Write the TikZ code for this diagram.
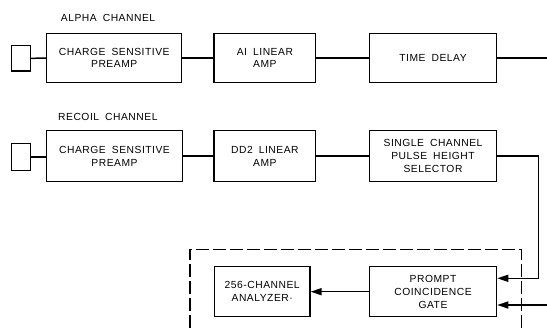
\documentclass[tikz,border=0pt]{standalone}
\usepackage{fontspec}
\setmainfont{Liberation Sans}[LetterSpace=5,WordSpace=1.8]
\usetikzlibrary{arrows.meta}
\begin{document}
\begin{tikzpicture}[x=1pt,y=-1pt,
  blk/.style={draw,line width=1.2pt,inner sep=0pt,align=center,font=\fontsize{10.3}{12.8}\selectfont},
  det/.style={draw,line width=1.2pt,inner sep=0pt,minimum width=18.6pt},
  wire/.style={line width=1.5pt},
  arr/.style={line width=1.5pt,-{Triangle[length=11pt,width=7pt]}},
  lbl/.style={anchor=west,inner sep=0pt,font=\fontsize{10.3}{12}\selectfont}]
\useasboundingbox (0,0) rectangle (547,331);
\clip (0,0) rectangle (547,331);
% labels
\node[lbl] (l1) at (60.7,17.7) {ALPHA CHANNEL};
\node[lbl] (l2) at (58,116.7) {RECOIL CHANNEL};
% row 1
\node[det,minimum height=25.5pt] (d1) at (21,58.3) {};
\node[blk,minimum width=135pt,minimum height=49.4pt] (a1) at (114.2,58) {CHARGE SENSITIVE\\PREAMP};
\node[blk,minimum width=101.7pt,minimum height=49.4pt] (a2) at (264.9,58) {AI LINEAR\\AMP};
\node[blk,minimum width=127.4pt,minimum height=49.4pt] (a3) at (433,58) {TIME DELAY};
\coordinate (o1) at (547,58);
\draw[wire] (d1) -- (a1);
\draw[wire] (a1) -- (a2);
\draw[wire] (a2) -- (a3);
\draw[wire] (a3) -- (o1);
% row 2
\node[det,minimum height=27.4pt] (d2) at (21,157) {};
\node[blk,minimum width=135.6pt,minimum height=51pt] (r1) at (114.5,156.2) {CHARGE SENSITIVE\\PREAMP};
\node[blk,minimum width=101.7pt,minimum height=51pt] (r2) at (264.9,156.2) {DD2 LINEAR\\AMP};
\node[blk,minimum width=127.4pt,minimum height=51pt] (r3) at (433,156.2) {SINGLE CHANNEL\\PULSE HEIGHT\\SELECTOR};
\draw[wire] (d2.east) -- (d2.east -| r1.west);
\draw[wire] (r1) -- (r2);
\draw[wire] (r2) -- (r3);
% dashed enclosure
\draw[line width=1.2pt,dash pattern=on 13pt off 4pt] (190,345) -- (190,249.3) -- (521.7,249.3) -- (521.7,345);
% bottom
\node[blk,minimum width=95.7pt,minimum height=50pt] (an) at (262.2,291.7) {256-CHANNEL\\ANALYZER·};
\node[blk,minimum width=127.4pt,minimum height=50pt] (pc) at (433,291.7) {PROMPT\\COINCIDENCE\\GATE};
\coordinate (t1) at (538.3,278.3);
\coordinate (in2) at (547,305);
\draw[arr] (r3.east) -| (t1) -- (t1 -| pc.east);
\draw[arr] (in2) -- (in2 -| pc.east);
\draw[arr] (pc.west) -- (an.east);
\end{tikzpicture}
\end{document}
